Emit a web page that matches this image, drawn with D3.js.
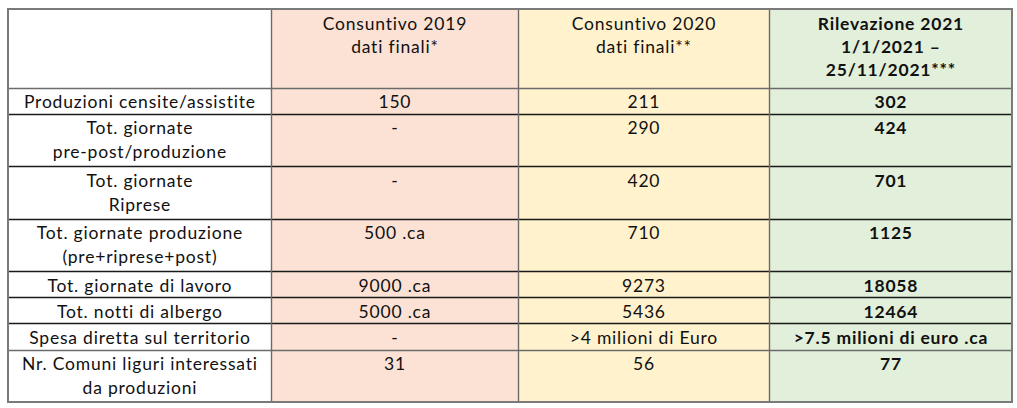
<!DOCTYPE html>
<html><head><meta charset="utf-8">
<script src="https://cdn.jsdelivr.net/npm/d3@7"></script>
<style>html,body{margin:0;padding:0;background:#fff;}svg{display:block;}</style>
</head><body>
<svg id="chart" width="1017" height="408"></svg>
<script>
const headers = [[""], ["Consuntivo 2019", "dati finali*"], ["Consuntivo 2020", "dati finali**"], ["Rilevazione 2021", "1/1/2021 –", "25/11/2021***"]];
const rowLabels = [
  ["Produzioni censite/assistite"],
  ["Tot. giornate", "pre-post/produzione"],
  ["Tot. giornate", "Riprese"],
  ["Tot. giornate produzione", "(pre+riprese+post)"],
  ["Tot. giornate di lavoro"],
  ["Tot. notti di albergo"],
  ["Spesa diretta sul territorio"],
  ["Nr. Comuni liguri interessati", "da produzioni"]
];
const values2019 = ["150", "-", "-", "500 .ca", "9000 .ca", "5000 .ca", "-", "31"];
const values2020 = ["211", "290", "420", "710", "9273", "5436", ">4 milioni di Euro", "56"];
const values2021 = ["302", "424", "701", "1125", "18058", "12464", ">7.5 milioni di euro .ca", "77"];

const colFills = ["#ffffff", "#fbe2d5", "#fff2cc", "#e2efda"];
const colBold = [false, false, false, true];

const svg = d3.select("#chart");
const font = "Lato, 'Open Sans', sans-serif";
const fs = 17.5;
const ls = 0.8;

const rowUnits = [3].concat(rowLabels.map(l => l.length));
const cum = [0];
rowUnits.forEach(u => cum.push(cum[cum.length - 1] + u));
const y = d3.scaleLinear().domain([0, cum[cum.length - 1]]).range([9, 402]);
const colEdges = [8, 271, 518, 769, 1012];
const x = i => colEdges[i];

const columns = [
  rowLabels,
  values2019.map(v => [v]),
  values2020.map(v => [v]),
  values2021.map(v => [v])
];

for (let c = 0; c < 4; c++) {
  svg.append("rect").attr("x", x(c)).attr("y", y(0)).attr("width", x(c + 1) - x(c))
    .attr("height", y(cum[cum.length - 1]) - y(0)).attr("fill", colFills[c]);
}

for (let c = 0; c < 4; c++) {
  const cx = (x(c) + x(c + 1)) / 2 + ls / 2;
  const cells = [headers[c]].concat(columns[c]);
  cells.forEach((lines, r) => {
    const top = y(cum[r]);
    const lh = r === 0 ? 23 : 24;
    lines.forEach((t, k) => {
      svg.append("text").attr("x", cx).attr("y", top + 20.5 + k * lh)
        .attr("text-anchor", "middle").attr("font-family", font).attr("font-size", fs)
        .attr("letter-spacing", ls + "px")
        .attr("font-weight", colBold[c] ? "bold" : "normal").attr("fill", "#111").text(t);
    });
  });
}

for (let r = 1; r < cum.length - 1; r++) {
  const gray = (r === 1 || r === 8);
  svg.append("line").attr("x1", x(0)).attr("x2", x(4)).attr("y1", Math.round(y(cum[r])) + 0.5).attr("y2", Math.round(y(cum[r])) + 0.5)
    .attr("stroke", gray ? "#6b6b6b" : "#1a1a1a").attr("stroke-width", 1.4);
}
for (let c = 1; c < 4; c++) {
  svg.append("line").attr("x1", x(c) + 0.5).attr("x2", x(c) + 0.5).attr("y1", y(0)).attr("y2", y(cum[cum.length - 1]))
    .attr("stroke", "#6b6b6b").attr("stroke-width", 1.4);
}
svg.append("rect").attr("x", x(0)).attr("y", y(0)).attr("width", x(4) - x(0)).attr("height", y(cum[cum.length - 1]) - y(0))
  .attr("fill", "none").attr("stroke", "#7a7a7a").attr("stroke-width", 2);
</script>
</body></html>
